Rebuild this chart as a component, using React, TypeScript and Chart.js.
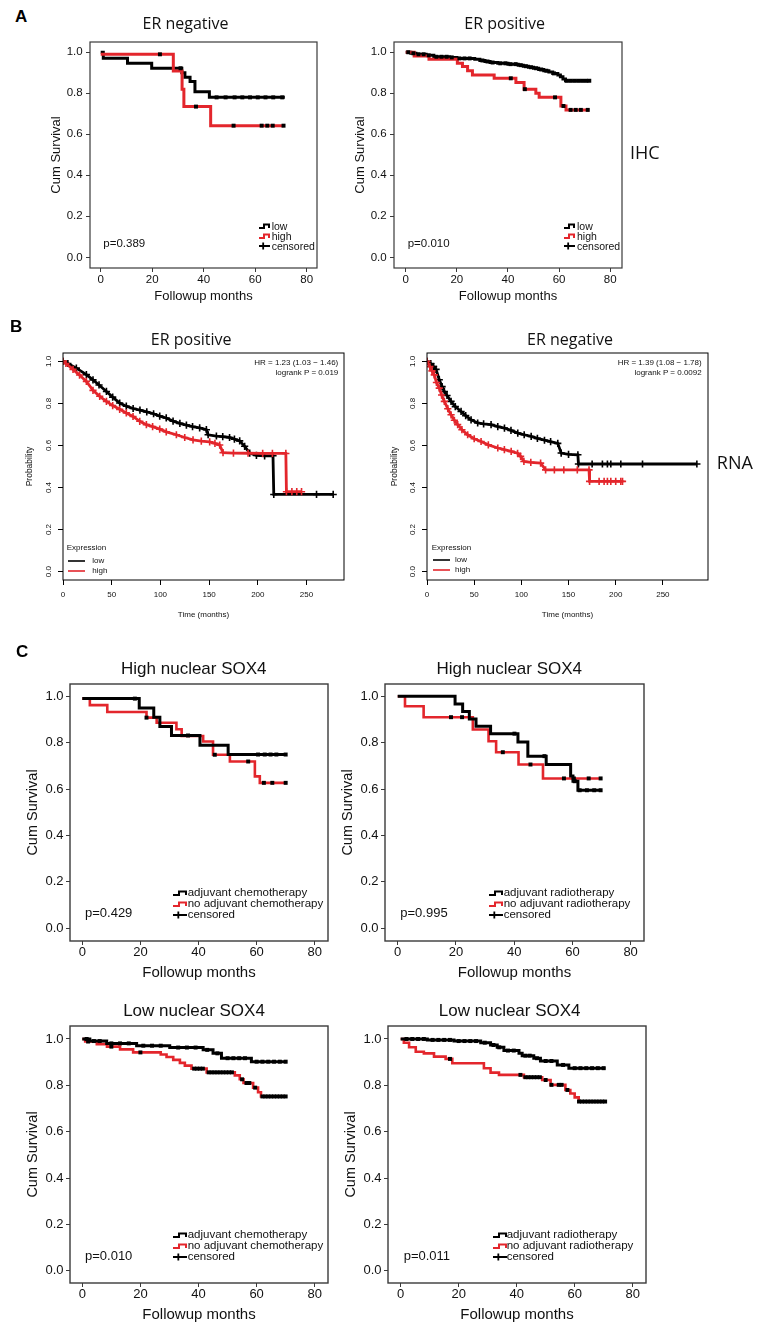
import React, { useEffect, useRef } from "react";
import { Chart, registerables } from "chart.js";

Chart.register(...registerables);

const RED = "#e3262c";
const BLK = "#000000";
const SANS = "'Liberation Sans', Arial, sans-serif";
const MYRIAD = "'Open Sans', 'Noto Sans', sans-serif";

// ---------- ticks ----------
const SPSS_X_TICKS = [0, 20, 40, 60, 80];
const SPSS_X_LABELS = ["0", "20", "40", "60", "80"];
const Y_TICKS = [0, 0.2, 0.4, 0.6, 0.8, 1.0];
const Y_LABELS = ["0.0", "0.2", "0.4", "0.6", "0.8", "1.0"];
const RNA_X_TICKS = [0, 50, 100, 150, 200, 250];
const RNA_X_LABELS = ["0", "50", "100", "150", "200", "250"];

// ---------- A: IHC, ER negative ----------
const AL_LOW_T = [0, 1, 10.4, 19.8, 31.5, 32.7, 34.7, 36.6, 42.2, 71.5];
const AL_LOW_S = [1.0, 0.971, 0.946, 0.922, 0.9, 0.878, 0.857, 0.808, 0.78, 0.78];
const AL_LOW_CENS = [31, 45, 48.5, 52, 55, 58, 61, 64, 67, 70.5];
const AL_HIGH_T = [0, 28.2, 31.6, 32.3, 42.7, 71];
const AL_HIGH_S = [0.99, 0.909, 0.82, 0.735, 0.642, 0.642];
const AL_HIGH_CENS = [23, 37, 51.6, 62.5, 64.7, 66.8, 71];

// ---------- A: IHC, ER positive ----------
const AR_LOW_T = [0, 2, 4, 8, 11, 17, 20, 27, 29, 31, 33, 36, 40, 44, 46, 48, 50, 52, 54, 56, 57.5, 59.5, 60.5, 61.5, 62.5, 71.8];
const AR_LOW_S = [1.0, 0.995, 0.99, 0.985, 0.978, 0.975, 0.97, 0.966, 0.96, 0.955, 0.95, 0.946, 0.942, 0.937, 0.932, 0.927, 0.922, 0.916, 0.91, 0.904, 0.897, 0.889, 0.88, 0.87, 0.861, 0.861];
const AR_LOW_CENS = [1, 3, 5, 7, 9, 12, 14, 16, 18, 21, 23, 25, 30, 32, 34, 37, 39, 41, 43, 45, 47, 49, 51, 53, 55, 58, 63, 64.5, 66, 67.5, 69, 70.5, 71.8];
const AR_HIGH_T = [0, 3.3, 9.1, 20.2, 22.2, 24.2, 26.1, 34.6, 43.1, 46.3, 50.9, 52.2, 60.7, 62.7, 71.8];
const AR_HIGH_S = [1.0, 0.982, 0.966, 0.946, 0.93, 0.91, 0.889, 0.873, 0.852, 0.82, 0.8, 0.78, 0.738, 0.719, 0.719];
const AR_HIGH_CENS = [41.1, 46.6, 58.4, 61.7, 64.5, 66.5, 68.5, 71.2];

// ---------- B: RNA, ER positive ----------
const BL_LOW_T = [0, 5, 13.7, 24, 30.8, 37, 44.6, 51, 58.2, 65, 72, 79, 86, 93, 99.3, 106, 113, 120, 126.7, 133, 140.3, 147.2, 149, 157.5, 164, 171, 176, 181.4, 186.5, 191.7, 198.6, 207, 215.6, 216.4, 260.3, 277.4];
const BL_LOW_S = [1.0, 0.99, 0.968, 0.937, 0.912, 0.888, 0.857, 0.83, 0.802, 0.787, 0.776, 0.768, 0.76, 0.751, 0.74, 0.731, 0.716, 0.705, 0.697, 0.69, 0.684, 0.675, 0.651, 0.645, 0.642, 0.638, 0.63, 0.622, 0.596, 0.564, 0.553, 0.551, 0.551, 0.367, 0.367, 0.367];
const BL_HIGH_T = [0, 3, 10.3, 17, 24, 30.8, 37.7, 44.6, 51, 58.2, 65, 71.9, 78.8, 85.6, 92, 99.3, 106, 116.4, 125, 133.5, 142, 150.6, 156, 160.9, 164.3, 175, 190, 205, 215, 228.8, 229.4, 235, 240, 244.9];
const BL_HIGH_S = [1.0, 0.99, 0.962, 0.935, 0.905, 0.862, 0.834, 0.81, 0.79, 0.772, 0.755, 0.738, 0.715, 0.699, 0.69, 0.678, 0.665, 0.651, 0.638, 0.627, 0.621, 0.617, 0.61, 0.602, 0.566, 0.564, 0.563, 0.562, 0.562, 0.562, 0.38, 0.38, 0.38, 0.38];

// ---------- B: RNA, ER negative ----------
const BR_LOW_T = [0, 4, 7, 9.6, 13, 16, 18.4, 21.2, 25.5, 30, 36.1, 41, 46.7, 53.7, 60, 67.9, 75, 82.1, 89, 96.2, 103, 110.4, 117, 124.5, 131, 138.6, 142.2, 150, 159.9, 160.5, 175, 185.9, 191.2, 194.8, 205.4, 228.4, 286];
const BR_LOW_S = [1.0, 0.99, 0.975, 0.962, 0.913, 0.88, 0.857, 0.838, 0.81, 0.785, 0.762, 0.742, 0.722, 0.707, 0.703, 0.699, 0.69, 0.683, 0.672, 0.659, 0.651, 0.643, 0.634, 0.625, 0.618, 0.61, 0.564, 0.558, 0.556, 0.512, 0.512, 0.512, 0.512, 0.512, 0.512, 0.512, 0.512];
const BR_HIGH_T = [0, 3, 5.3, 7.7, 10, 13, 15.5, 18.4, 22, 25.5, 29, 32.5, 37, 43.1, 50, 57.3, 65, 75, 82, 89.2, 96, 99.2, 102.7, 110, 120.4, 125.7, 135, 145, 159.3, 171.7, 172.3, 182.4, 187.7, 191.2, 194.8, 200, 205.4, 207.2];
const BR_HIGH_S = [1.0, 0.975, 0.955, 0.936, 0.9, 0.873, 0.84, 0.81, 0.775, 0.746, 0.72, 0.699, 0.675, 0.651, 0.632, 0.619, 0.603, 0.588, 0.58, 0.572, 0.563, 0.548, 0.524, 0.52, 0.516, 0.484, 0.484, 0.484, 0.484, 0.484, 0.429, 0.429, 0.429, 0.429, 0.429, 0.429, 0.429, 0.429];

// ---------- C: High nuclear SOX4, chemotherapy ----------
const CTL_ADJ_T = [0, 19.6, 24.6, 26.7, 30.7, 40.5, 50.2, 70.3];
const CTL_ADJ_S = [0.99, 0.95, 0.91, 0.87, 0.831, 0.789, 0.749, 0.749];
const CTL_ADJ_CENS = [18.1, 36.4, 60.5, 62.8, 64.8, 66.8, 70];
const CTL_NO_T = [0, 2.6, 8.6, 22.1, 25.6, 32.4, 34.2, 41.6, 45, 50.8, 59.4, 61.1, 70.3];
const CTL_NO_S = [0.99, 0.962, 0.932, 0.908, 0.886, 0.858, 0.829, 0.805, 0.748, 0.719, 0.655, 0.627, 0.627];
const CTL_NO_CENS = [22.1, 45.6, 57.1, 62.5, 65.4, 70];

// ---------- C: High nuclear SOX4, radiotherapy ----------
const CTR_ADJ_T = [0, 19.7, 22.3, 24.6, 26.9, 31.9, 41.3, 44.7, 51, 59.4, 60.2, 61.9, 69.9];
const CTR_ADJ_S = [1.0, 0.967, 0.935, 0.902, 0.871, 0.839, 0.803, 0.742, 0.706, 0.656, 0.634, 0.595, 0.595];
const CTR_ADJ_CENS = [40.1, 50.4, 60.8, 62.5, 65, 67.5, 69.7];
const CTR_NO_T = [0, 2.5, 8.9, 25.8, 31.2, 33.8, 41.5, 49.9, 69.9];
const CTR_NO_S = [1.0, 0.957, 0.91, 0.857, 0.806, 0.759, 0.706, 0.646, 0.646];
const CTR_NO_CENS = [18.3, 22.1, 36.1, 45.6, 57.1, 60.5, 65.6, 69.7];

// ---------- C: Low nuclear SOX4, chemotherapy ----------
const CBL_ADJ_T = [0, 2.6, 8.4, 18.7, 30.1, 41.6, 45, 47.9, 58.2, 70.3];
const CBL_ADJ_S = [1.0, 0.991, 0.981, 0.971, 0.963, 0.953, 0.938, 0.917, 0.902, 0.902];
const CBL_ADJ_CENS = [1.5, 4, 6, 10, 13, 16, 21, 24, 27, 33, 36, 39, 43, 46.5, 50, 52, 54, 56, 60, 62, 64, 66, 68, 70];
const CBL_NO_T = [0, 1, 5, 8.5, 13, 17.5, 27, 29, 31.3, 33.6, 35.3, 37.6, 42.8, 52.5, 54.2, 55.5, 58.8, 60.5, 61.5, 70.3];
const CBL_NO_S = [1.0, 0.989, 0.978, 0.967, 0.955, 0.942, 0.933, 0.922, 0.91, 0.897, 0.885, 0.872, 0.856, 0.843, 0.826, 0.81, 0.79, 0.77, 0.752, 0.752];
const CBL_NO_CENS = [2, 10, 20, 38.5, 39.5, 40.5, 41.5, 43.5, 44.5, 45.5, 46.5, 47.5, 48.5, 49.5, 50.5, 51.5, 55, 56.5, 57.5, 59.5, 62, 63, 64, 65, 66, 67, 68, 69, 70];

// ---------- C: Low nuclear SOX4, radiotherapy ----------
const CBR_ADJ_T = [0, 9.2, 18.4, 27.6, 31, 33.3, 35.6, 40.8, 41.9, 45.9, 48.2, 54, 58, 70.6];
const CBR_ADJ_S = [1.0, 0.996, 0.991, 0.984, 0.974, 0.964, 0.95, 0.938, 0.928, 0.917, 0.905, 0.888, 0.874, 0.874];
const CBR_ADJ_CENS = [2, 4, 6, 8, 11, 13, 15, 17, 20, 22, 24, 26, 29, 32, 34, 37, 39, 43, 44.5, 47, 50, 52, 56, 60, 62, 64, 66, 68, 70];
const CBR_NO_T = [0, 1.1, 2.9, 5.2, 8, 11.5, 15.5, 17.8, 28.7, 31, 33.9, 42.5, 48.8, 51.7, 56.8, 58.5, 60, 61.4, 70.6];
const CBR_NO_S = [1.0, 0.984, 0.964, 0.945, 0.938, 0.924, 0.914, 0.895, 0.874, 0.855, 0.845, 0.835, 0.823, 0.802, 0.78, 0.765, 0.748, 0.73, 0.73];
const CBR_NO_CENS = [17, 41.3, 43, 44, 45, 46, 47, 48, 50, 52, 54.5, 55.5, 57.5, 61.5, 62.5, 63.5, 64.5, 65.5, 66.5, 67.5, 68.5, 69.5, 70.5];

// value of a KM step function at time t
function stepAt(T: number[], S: number[], t: number) {
  let v = S[0];
  for (let i = 0; i < T.length; i++) if (T[i] <= t) v = S[i];
  return v;
}

const framePlugin = {
  id: "frame",
  afterDatasetsDraw(chart: any, _a: any, opts: any) {
    const { ctx, chartArea } = chart;
    ctx.save();
    ctx.strokeStyle = opts.color || "#000";
    ctx.lineWidth = opts.width || 1;
    ctx.strokeRect(chartArea.left, chartArea.top, chartArea.right - chartArea.left, chartArea.bottom - chartArea.top);
    ctx.restore();
  },
};

const LW = 64, TP = 14, RP = 14, BH = 52;

function KMPanel({ cfg }: { cfg: any }) {
  const ref = useRef<HTMLCanvasElement | null>(null);
  const [bx0, by0, bx1, by1] = cfg.box;
  const x0 = Math.round(bx0), y0 = Math.round(by0);
  const bw = Math.round(bx1 - bx0), bh = Math.round(by1 - by0);
  const W = LW + bw + RP;
  const H = TP + bh + BH;
  useEffect(() => {
    const el = ref.current;
    if (!el) return;
    const datasets: any[] = [];
    cfg.curves.forEach((c: any) => {
      datasets.push({
        type: "line",
        data: c.t.map((t: number, j: number) => ({ x: t, y: c.s[j] })),
        borderColor: c.color,
        backgroundColor: c.color,
        borderWidth: c.width,
        stepped: c.stepped ? "before" : false,
        tension: 0,
        fill: false,
        pointRadius: c.marks ? 3.6 : 0,
        pointHoverRadius: 0,
        pointStyle: "cross",
        pointBorderColor: c.color,
        pointBorderWidth: 1.6,
        order: c.top ? 1 : 2,
      });
      if (c.cens) {
        datasets.push({
          type: "scatter",
          data: c.cens.map((t: number) => ({ x: t, y: stepAt(c.t, c.s, t) })),
          pointStyle: "rect",
          pointRadius: 2.8,
          pointHoverRadius: 0,
          backgroundColor: "#000",
          pointBackgroundColor: "#000",
          pointBorderWidth: 0,
          borderWidth: 0,
          order: 0,
        });
      }
    });
    const tickFont = { family: SANS, size: cfg.tickFont };
    const xlh = cfg.xTitleFont * 1.2;
    const ylh = cfg.yTitleFont * 1.2;
    const yTickExtra = cfg.rstyle ? { minRotation: 90, maxRotation: 90, crossAlign: "center" } : {};
    const chart = new Chart(el, {
      type: "line",
      data: { datasets },
      plugins: [framePlugin as any],
      options: {
        responsive: false,
        animation: false,
        devicePixelRatio: 1,
        events: [],
        layout: { padding: { left: 0, top: TP, right: RP, bottom: 0 } },
        plugins: {
          legend: { display: false },
          tooltip: { enabled: false },
          frame: { color: cfg.frameColor, width: cfg.frameWidth },
        } as any,
        scales: {
          x: {
            type: "linear",
            position: "bottom",
            min: cfg.xr[0],
            max: cfg.xr[1],
            bounds: "data",
            afterBuildTicks: (s: any) => {
              s.ticks = cfg.xTicks.map((v: number) => ({ value: v }));
            },
            afterFit: (s: any) => {
              s.height = BH;
            },
            grid: { display: true, drawOnChartArea: false, drawTicks: true, tickLength: cfg.tl, color: cfg.frameColor, lineWidth: 1 },
            border: { display: false },
            ticks: {
              autoSkip: false,
              maxRotation: 0,
              minRotation: 0,
              padding: cfg.xPad,
              color: "#111",
              font: tickFont,
              callback: (_v: any, i: number) => cfg.xLabels[i],
            },
            title: {
              display: true,
              text: cfg.xTitle,
              color: "#111",
              font: { family: SANS, size: cfg.xTitleFont },
              padding: { top: 0, bottom: BH - cfg.xTitleOff - xlh / 2 },
            },
          },
          y: {
            type: "linear",
            position: "left",
            min: cfg.yr[0],
            max: cfg.yr[1],
            bounds: "data",
            afterBuildTicks: (s: any) => {
              s.ticks = cfg.yTicks.map((v: number) => ({ value: v }));
            },
            afterFit: (s: any) => {
              s.width = LW;
            },
            grid: { display: true, drawOnChartArea: false, drawTicks: true, tickLength: cfg.tl, color: cfg.frameColor, lineWidth: 1 },
            border: { display: false },
            ticks: {
              autoSkip: false,
              padding: cfg.yPad,
              color: "#111",
              font: tickFont,
              callback: (_v: any, i: number) => cfg.yLabels[i],
              ...yTickExtra,
            },
            title: {
              display: true,
              text: cfg.yTitle,
              color: "#111",
              font: { family: SANS, size: cfg.yTitleFont },
              padding: { top: LW - cfg.yTitleOff - ylh / 2, bottom: 0 },
            },
          },
        },
      } as any,
    });
    return () => chart.destroy();
  }, []);
  return (
    <canvas
      ref={ref}
      width={W}
      height={H}
      style={{ position: "absolute", left: x0 - LW, top: y0 - TP, width: W, height: H }}
    />
  );
}

function Txt({ x, y, size, text, family = SANS, align = "left", weight = 400, color = "#111" }: any) {
  const r = family === MYRIAD ? 0.53 : 0.49;
  const tr = align === "center" ? "translateX(-50%)" : align === "right" ? "translateX(-100%)" : "none";
  return (
    <div
      style={{
        position: "absolute",
        left: x,
        top: y - r * size,
        fontSize: size,
        lineHeight: `${size}px`,
        fontFamily: family,
        fontWeight: weight,
        color,
        whiteSpace: "nowrap",
        transform: tr,
      }}
    >
      {text}
    </div>
  );
}

function StepGlyph({ x, y, w, color }: any) {
  const mid = Math.round(w * 0.42);
  return (
    <svg style={{ position: "absolute", left: x, top: y - 4 }} width={w} height={8}>
      <path d={`M0 6 H${mid} V2.5 H${w - 1} V6`} stroke={color} strokeWidth={2} fill="none" />
    </svg>
  );
}
function CensGlyph({ x, y, w }: any) {
  return (
    <svg style={{ position: "absolute", left: x, top: y - 4 }} width={w} height={8}>
      <path d={`M0 4 H${w} M${w * 0.38} 0.5 V7.5`} stroke="#000" strokeWidth={1.8} fill="none" />
    </svg>
  );
}
function LineGlyph({ x, y, w, color }: any) {
  return (
    <svg style={{ position: "absolute", left: x, top: y - 2 }} width={w} height={4}>
      <line x1={0} y1={2} x2={w} y2={2} stroke={color} strokeWidth={1.6} />
    </svg>
  );
}

function SpssLegend({ gx, tx, rows, labels, size, gw }: any) {
  return (
    <>
      <StepGlyph x={gx} y={rows[0]} w={gw} color={BLK} />
      <StepGlyph x={gx} y={rows[1]} w={gw} color={RED} />
      <CensGlyph x={gx} y={rows[2]} w={gw} />
      <Txt x={tx} y={rows[0]} size={size} text={labels[0]} />
      <Txt x={tx} y={rows[1]} size={size} text={labels[1]} />
      <Txt x={tx} y={rows[2]} size={size} text={labels[2]} />
    </>
  );
}

function RLegend({ x, lx, tx, y0, rows }: any) {
  return (
    <>
      <Txt x={x} y={y0} size={8} text="Expression" />
      <LineGlyph x={lx} y={rows[0]} w={17} color={BLK} />
      <LineGlyph x={lx} y={rows[1]} w={17} color={RED} />
      <Txt x={tx} y={rows[0]} size={8} text="low" />
      <Txt x={tx} y={rows[1]} size={8} text="high" />
    </>
  );
}

const spssA = {
  yr: [-0.052, 1.05],
  xTicks: SPSS_X_TICKS, xLabels: SPSS_X_LABELS, yTicks: Y_TICKS, yLabels: Y_LABELS,
  rstyle: false, tickFont: 11.5, tl: 4, xPad: 1.4, yPad: 3.3,
  xTitle: "Followup months", yTitle: "Cum Survival", xTitleFont: 13, yTitleFont: 13, xTitleOff: 28, yTitleOff: 33.5,
  frameColor: "#3a3a3a", frameWidth: 1.2,
};
const spssC = {
  xTicks: SPSS_X_TICKS, xLabels: SPSS_X_LABELS, yTicks: Y_TICKS, yLabels: Y_LABELS,
  rstyle: false, tickFont: 13, tl: 4, xPad: -0.5, yPad: 2.5,
  xTitle: "Followup months", yTitle: "Cum Survival", xTitleFont: 15, yTitleFont: 14.5, xTitleOff: 32, yTitleOff: 37.5,
  frameColor: "#3a3a3a", frameWidth: 1.4,
};
const rB = {
  yr: [-0.04, 1.04],
  xTicks: RNA_X_TICKS, xLabels: RNA_X_LABELS, yTicks: Y_TICKS, yLabels: Y_LABELS,
  rstyle: true, tickFont: 8, tl: 5, xPad: 4.8, yPad: 3.2,
  xTitle: "Time (months)", yTitle: "Probability", xTitleFont: 8, yTitleFont: 8.5, xTitleOff: 34.5, yTitleOff: 33,
  frameColor: "#000", frameWidth: 1,
};

const PANELS = [
  {
    ...spssA, box: [90, 42, 317, 268.3], xr: [-4.16, 84],
    curves: [
      { t: AL_LOW_T, s: AL_LOW_S, color: BLK, width: 3, stepped: true, cens: AL_LOW_CENS },
      { t: AL_HIGH_T, s: AL_HIGH_S, color: RED, width: 3, stepped: true, cens: AL_HIGH_CENS, top: true },
    ],
  },
  {
    ...spssA, box: [394.3, 42, 622, 268.3], xr: [-4.58, 84.6],
    curves: [
      { t: AR_LOW_T, s: AR_LOW_S, color: BLK, width: 3, stepped: true, cens: AR_LOW_CENS },
      { t: AR_HIGH_T, s: AR_HIGH_S, color: RED, width: 3, stepped: true, cens: AR_HIGH_CENS, top: true },
    ],
  },
  {
    ...rB, box: [63, 353.2, 344, 580.4], xr: [0, 288.5],
    curves: [
      { t: BL_LOW_T, s: BL_LOW_S, color: BLK, width: 2.8, stepped: false, marks: true },
      { t: BL_HIGH_T, s: BL_HIGH_S, color: RED, width: 2.8, stepped: false, marks: true, top: true },
    ],
  },
  {
    ...rB, yTitleOff: 32.7, box: [427.2, 353.2, 707.7, 580.4], xr: [0, 297.8],
    curves: [
      { t: BR_LOW_T, s: BR_LOW_S, color: BLK, width: 2.8, stepped: false, marks: true },
      { t: BR_HIGH_T, s: BR_HIGH_S, color: RED, width: 2.8, stepped: false, marks: true, top: true },
    ],
  },
  {
    ...spssC, box: [70, 684.3, 328.3, 941.7], xr: [-4.23, 84.57], yr: [-0.0547, 1.053],
    curves: [
      { t: CTL_ADJ_T, s: CTL_ADJ_S, color: BLK, width: 3, stepped: true, cens: CTL_ADJ_CENS, top: true },
      { t: CTL_NO_T, s: CTL_NO_S, color: RED, width: 2.6, stepped: true, cens: CTL_NO_CENS },
    ],
  },
  {
    ...spssC, yTitleOff: 36.7, box: [385, 684.3, 643.7, 941.7], xr: [-4.37, 84.6], yr: [-0.0547, 1.053],
    curves: [
      { t: CTR_ADJ_T, s: CTR_ADJ_S, color: BLK, width: 3, stepped: true, cens: CTR_ADJ_CENS, top: true },
      { t: CTR_NO_T, s: CTR_NO_S, color: RED, width: 2.6, stepped: true, cens: CTR_NO_CENS },
    ],
  },
  {
    ...spssC, box: [70, 1026, 328.3, 1283.3], xr: [-4.23, 84.57], yr: [-0.053, 1.056],
    curves: [
      { t: CBL_ADJ_T, s: CBL_ADJ_S, color: BLK, width: 3, stepped: true, cens: CBL_ADJ_CENS, top: true },
      { t: CBL_NO_T, s: CBL_NO_S, color: RED, width: 2.6, stepped: true, cens: CBL_NO_CENS },
    ],
  },
  {
    ...spssC, yTitleOff: 36.7, box: [388.3, 1026, 646.7, 1283.3], xr: [-4.37, 84.6], yr: [-0.053, 1.056],
    curves: [
      { t: CBR_ADJ_T, s: CBR_ADJ_S, color: BLK, width: 3, stepped: true, cens: CBR_ADJ_CENS, top: true },
      { t: CBR_NO_T, s: CBR_NO_S, color: RED, width: 2.6, stepped: true, cens: CBR_NO_CENS },
    ],
  },
];

const IHC_LEGEND = ["low", "high", "censored"];
const CHEMO_LEGEND = ["adjuvant chemotherapy", "no adjuvant chemotherapy", "censored"];
const RADIO_LEGEND = ["adjuvant radiotherapy", "no adjuvant radiotherapy", "censored"];

export default function App() {
  return (
    <div
      style={{
        position: "absolute",
        left: 0,
        top: 0,
        width: 762,
        height: 1331,
        overflow: "hidden",
        background: "#fff",
      }}
    >
      {PANELS.map((cfg, i) => (
        <KMPanel key={i} cfg={cfg} />
      ))}

      {/* panel letters */}
      <Txt x={15} y={16.3} size={17} weight={700} text="A" color="#000" />
      <Txt x={10} y={326.7} size={17} weight={700} text="B" color="#000" />
      <Txt x={16} y={651.7} size={17} weight={700} text="C" color="#000" />

      {/* titles */}
      <Txt x={185.5} y={23} size={16} family={MYRIAD} align="center" text="ER negative" />
      <Txt x={504.7} y={23} size={16} family={MYRIAD} align="center" text="ER positive" />
      <Txt x={644.8} y={152.5} size={18} family={MYRIAD} align="center" text="IHC" />
      <Txt x={191.2} y={339} size={16} family={MYRIAD} align="center" text="ER positive" />
      <Txt x={570} y={339} size={16} family={MYRIAD} align="center" text="ER negative" />
      <Txt x={734.8} y={462.5} size={18} family={MYRIAD} align="center" text="RNA" />
      <Txt x={193.8} y={668} size={17} align="center" text="High nuclear SOX4" />
      <Txt x={509.3} y={668} size={17} align="center" text="High nuclear SOX4" />
      <Txt x={194} y={1010} size={17} align="center" text="Low nuclear SOX4" />
      <Txt x={509.7} y={1010} size={17} align="center" text="Low nuclear SOX4" />

      {/* A legends and p values */}
      <SpssLegend gx={259.3} tx={271.7} rows={[225.7, 235.7, 245.7]} labels={IHC_LEGEND} size={10.5} gw={11} />
      <SpssLegend gx={563.7} tx={577} rows={[225.7, 235.7, 245.7]} labels={IHC_LEGEND} size={10.5} gw={11} />
      <Txt x={103.3} y={243.3} size={11.5} text="p=0.389" />
      <Txt x={407.7} y={243.3} size={11.5} text="p=0.010" />

      {/* B annotations */}
      <Txt x={338.3} y={363.3} size={8} align="right" text="HR = 1.23 (1.03 − 1.46)" />
      <Txt x={338.3} y={372.7} size={8} align="right" text="logrank P = 0.019" />
      <Txt x={701.7} y={363.3} size={8} align="right" text="HR = 1.39 (1.08 − 1.78)" />
      <Txt x={701.7} y={372.7} size={8} align="right" text="logrank P = 0.0092" />
      <RLegend x={66.7} lx={68.3} tx={92.3} y0={548.3} rows={[560.7, 570.7]} />
      <RLegend x={431.7} lx={432.7} tx={455} y0={548.3} rows={[560.3, 570.3]} />

      {/* C legends and p values */}
      <SpssLegend gx={173.3} tx={187.7} rows={[892.7, 904, 915]} labels={CHEMO_LEGEND} size={11.5} gw={14} />
      <SpssLegend gx={489.3} tx={503.7} rows={[892.7, 904, 915]} labels={RADIO_LEGEND} size={11.5} gw={14} />
      <SpssLegend gx={173.3} tx={187.7} rows={[1235, 1246, 1257]} labels={CHEMO_LEGEND} size={11.5} gw={14} />
      <SpssLegend gx={492.7} tx={506.7} rows={[1235, 1246, 1257]} labels={RADIO_LEGEND} size={11.5} gw={14} />
      <Txt x={85} y={912.7} size={13} text="p=0.429" />
      <Txt x={400.3} y={912.7} size={13} text="p=0.995" />
      <Txt x={85} y={1255} size={13} text="p=0.010" />
      <Txt x={403.7} y={1255} size={13} text="p=0.011" />
    </div>
  );
}
